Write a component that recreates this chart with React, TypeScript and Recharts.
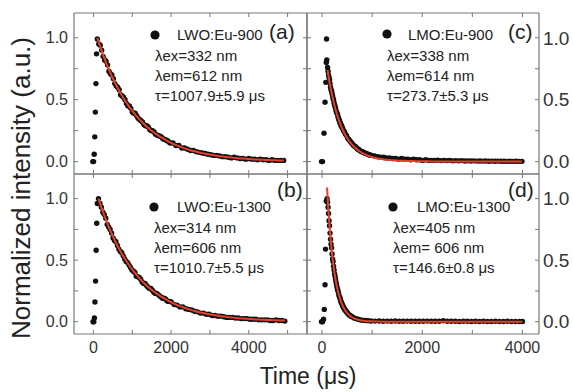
import React from "react";
import { ComposedChart, Scatter, Line, XAxis, YAxis } from "recharts";

const W = 573;
const H = 392;
const FONT = "'Liberation Sans', Arial, sans-serif";
const FRAME = "#777";
const RED = "#e5402a";

// (a) LWO:Eu-900
const aRiseT = [-15, 5, 20, 35, 50, 65, 80];
const aRiseY = [0.0, 0.0, 0.06, 0.2, 0.4, 0.63, 0.87];
const aTime = [
  100, 175, 250, 325, 400, 475, 550, 625, 700, 775, 850, 925, 1000, 1075, 1150, 1225,
  1300, 1375, 1450, 1525, 1600, 1675, 1750, 1825, 1900, 1975, 2050, 2125, 2200, 2275,
  2350, 2425, 2500, 2575, 2650, 2725, 2800, 2875, 2950, 3025, 3100, 3175, 3250, 3325,
  3400, 3475, 3550, 3625, 3700, 3775, 3850, 3925, 4000, 4075, 4150, 4225, 4300, 4375,
  4450, 4525, 4600, 4675, 4750, 4825, 4900,
];
const aDots = [
  0.99, 0.94, 0.85, 0.81, 0.73, 0.7, 0.63, 0.6, 0.54, 0.52, 0.47, 0.45, 0.4, 0.39, 0.35,
  0.33, 0.3, 0.29, 0.26, 0.25, 0.22, 0.21, 0.2, 0.18, 0.17, 0.15, 0.15, 0.13, 0.13, 0.11,
  0.11, 0.1, 0.09, 0.09, 0.08, 0.075, 0.07, 0.065, 0.06, 0.055, 0.05, 0.05, 0.045, 0.04,
  0.04, 0.035, 0.03, 0.035, 0.03, 0.025, 0.025, 0.02, 0.025, 0.02, 0.02, 0.015, 0.02,
  0.015, 0.015, 0.01, 0.015, 0.01, 0.01, 0.01, 0.01,
];
const aMidT = [
  138, 213, 288, 363, 438, 513, 588, 663, 738, 813, 888, 963, 1038, 1113, 1188, 1263, 1338,
  1413, 1488, 1563, 1638, 1713, 1788, 1863, 1938,
];
const aMidDots = [
  0.95, 0.9, 0.82, 0.78, 0.71, 0.67, 0.61, 0.58, 0.53, 0.5, 0.45, 0.43, 0.39, 0.37, 0.34,
  0.32, 0.29, 0.28, 0.25, 0.24, 0.215, 0.205, 0.185, 0.175, 0.16,
];
const aFit = [
  1.0, 0.928, 0.862, 0.8, 0.743, 0.689, 0.64, 0.594, 0.551, 0.512, 0.475, 0.441, 0.41,
  0.38, 0.353, 0.328, 0.304, 0.282, 0.262, 0.243, 0.226, 0.21, 0.195, 0.181, 0.168, 0.156,
  0.144, 0.134, 0.124, 0.115, 0.107, 0.0995, 0.0923, 0.0857, 0.0796, 0.0739, 0.0686,
  0.0636, 0.0591, 0.0548, 0.0509, 0.0473, 0.0439, 0.0407, 0.0378, 0.0351, 0.0326, 0.0302,
  0.0281, 0.0261, 0.0242, 0.0225, 0.0208, 0.0194, 0.018, 0.0167, 0.0155, 0.0144, 0.0133,
  0.0124, 0.0115, 0.0107, 0.0099, 0.0092, 0.0085,
];

// (b) LWO:Eu-1300
const bRiseT = [-10, 10, 25, 40, 55, 70, 85, 100];
const bRiseY = [0.0, 0.0, 0.03, 0.16, 0.33, 0.58, 0.8, 0.96];
const bTime = [
  130, 205, 280, 355, 430, 505, 580, 655, 730, 805, 880, 955, 1030, 1105, 1180, 1255,
  1330, 1405, 1480, 1555, 1630, 1705, 1780, 1855, 1930, 2005, 2080, 2155, 2230, 2305,
  2380, 2455, 2530, 2605, 2680, 2755, 2830, 2905, 2980, 3055, 3130, 3205, 3280, 3355,
  3430, 3505, 3580, 3655, 3730, 3805, 3880, 3955, 4030, 4105, 4180, 4255, 4330, 4405,
  4480, 4555, 4630, 4705, 4780, 4855, 4930,
];
const bDots = [
  1.0, 0.93, 0.87, 0.79, 0.75, 0.68, 0.65, 0.59, 0.56, 0.51, 0.48, 0.44, 0.41, 0.37, 0.36,
  0.32, 0.31, 0.28, 0.27, 0.24, 0.23, 0.21, 0.19, 0.185, 0.165, 0.16, 0.14, 0.135, 0.12,
  0.12, 0.105, 0.1, 0.095, 0.085, 0.08, 0.07, 0.07, 0.06, 0.06, 0.05, 0.05, 0.045, 0.045,
  0.04, 0.035, 0.035, 0.035, 0.03, 0.03, 0.025, 0.025, 0.025, 0.02, 0.02, 0.02, 0.015,
  0.015, 0.015, 0.015, 0.01, 0.01, 0.015, 0.01, 0.01, 0.005,
];
const bMidT = [
  168, 243, 318, 393, 468, 543, 618, 693, 768, 843, 918, 993, 1068, 1143, 1218, 1293, 1368,
  1443, 1518, 1593, 1668, 1743, 1818, 1893, 1968,
];
const bMidDots = [
  0.96, 0.89, 0.84, 0.77, 0.72, 0.66, 0.62, 0.57, 0.535, 0.49, 0.46, 0.42, 0.4, 0.365,
  0.345, 0.31, 0.295, 0.27, 0.255, 0.23, 0.22, 0.2, 0.19, 0.17, 0.165,
];
const bFit = [
  1.0, 0.929, 0.863, 0.801, 0.744, 0.691, 0.641, 0.596, 0.553, 0.514, 0.477, 0.443, 0.412,
  0.382, 0.355, 0.33, 0.306, 0.284, 0.264, 0.245, 0.228, 0.212, 0.197, 0.183, 0.17, 0.158,
  0.146, 0.136, 0.126, 0.117, 0.109, 0.101, 0.094, 0.0873, 0.0811, 0.0753, 0.0699, 0.0649,
  0.0603, 0.056, 0.052, 0.0483, 0.0449, 0.0417, 0.0387, 0.0359, 0.0334, 0.031, 0.0288,
  0.0267, 0.0248, 0.0231, 0.0214, 0.0199, 0.0185, 0.0172, 0.0159, 0.0148, 0.0137, 0.0128,
  0.0119, 0.011, 0.0102, 0.0095, 0.0088,
];

// (c) LMO:Eu-900
const cRiseT = [-10, 10, 40, 60, 75, 85, 90, 95];
const cRiseY = [0.0, 0.0, 0.23, 0.48, 0.64, 0.8, 0.99, 0.82];
const cTime = [
  110, 130, 150, 170, 190, 210, 230, 250, 270, 290, 310, 330, 350, 370, 390, 410, 430, 450,
  470, 490, 510, 530, 550, 570, 590, 610, 630, 650, 670, 690, 710, 730, 750, 770, 790, 810,
  830, 850, 870, 890, 910, 930, 950, 970, 990, 1050, 1110, 1170, 1230, 1290, 1350, 1410,
  1470, 1530, 1590, 1650, 1710, 1770, 1830, 1890, 1950, 2010, 2070, 2130, 2190, 2250, 2310,
  2370, 2430, 2490, 2550, 2610, 2670, 2730, 2790, 2850, 2910, 2970, 3030, 3090, 3150, 3210,
  3270, 3330, 3390, 3450, 3510, 3570, 3630, 3690, 3750, 3810, 3870, 3930, 3990,
];
const cDots = [
  0.76, 0.7, 0.66, 0.6, 0.57, 0.53, 0.5, 0.46, 0.43, 0.4, 0.38, 0.35, 0.33, 0.31, 0.29,
  0.27, 0.25, 0.24, 0.22, 0.21, 0.19, 0.18, 0.17, 0.16, 0.15, 0.14, 0.13, 0.125, 0.12,
  0.11, 0.1, 0.1, 0.09, 0.085, 0.08, 0.08, 0.075, 0.07, 0.065, 0.065, 0.06, 0.055, 0.055,
  0.05, 0.05, 0.045, 0.04, 0.035, 0.035, 0.03, 0.03, 0.025, 0.025, 0.02, 0.025, 0.02, 0.02,
  0.015, 0.02, 0.015, 0.015, 0.01, 0.015, 0.01, 0.01, 0.01, 0.012, 0.008, 0.01, 0.008,
  0.01, 0.006, 0.008, 0.006, 0.008, 0.005, 0.006, 0.005, 0.006, 0.004, 0.005, 0.004, 0.005,
  0.003, 0.004, 0.003, 0.004, 0.003, 0.003, 0.002, 0.003, 0.002, 0.003, 0.002, 0.002,
];
const cMidT = [120, 140, 160, 180, 200, 220, 240, 260, 280, 300, 320, 340, 360, 380, 400];
const cMidDots = [
  0.73, 0.68, 0.63, 0.58, 0.55, 0.51, 0.475, 0.445, 0.41, 0.39, 0.36, 0.335, 0.31, 0.29,
  0.275,
];
const cFit = [
  0.74, 0.69, 0.64, 0.6, 0.56, 0.52, 0.485, 0.452, 0.422, 0.393, 0.367, 0.342, 0.32, 0.298,
  0.278, 0.26, 0.243, 0.227, 0.212, 0.198, 0.185, 0.173, 0.162, 0.151, 0.141, 0.132, 0.124,
  0.116, 0.108, 0.101, 0.095, 0.089, 0.083, 0.078, 0.073, 0.068, 0.064, 0.06, 0.056, 0.052,
  0.049, 0.046, 0.043, 0.04, 0.037, 0.031, 0.026, 0.022, 0.018, 0.015, 0.013, 0.011, 0.009,
  0.008, 0.007, 0.006, 0.005, 0.004, 0.004, 0.003, 0.003, 0.002, 0.002, 0.002, 0.001,
  0.001, 0.001, 0.001, 0.001, 0.001, 0, 0, 0, 0, 0, 0, 0, 0, 0, 0, 0, 0, 0, 0, 0, 0, 0, 0,
  0, 0, 0, 0, 0, 0, 0,
];

// (d) LMO:Eu-1300
const dRiseT = [-10, 10, 30, 45, 60, 70, 85];
const dRiseY = [0.0, 0.0, 0.02, 0.1, 0.3, 0.59, 0.98];
const dTime = [
  100, 120, 140, 160, 180, 200, 220, 240, 260, 280, 300, 320, 340, 360, 380, 400, 420, 440,
  460, 480, 500, 520, 540, 560, 580, 600, 640, 680, 720, 760, 800, 860, 920, 980, 1060,
  1140, 1220, 1300, 1380, 1460, 1540, 1620, 1700, 1780, 1860, 1940, 2020, 2100, 2180, 2260,
  2340, 2420, 2500, 2580, 2660, 2740, 2820, 2900, 2980, 3060, 3140, 3220, 3300, 3380, 3460,
  3540, 3620, 3700, 3780, 3860, 3940, 4000,
];
const dDots = [
  1.0, 0.93, 0.82, 0.72, 0.63, 0.55, 0.49, 0.42, 0.37, 0.32, 0.28, 0.25, 0.21, 0.19, 0.16,
  0.145, 0.125, 0.11, 0.095, 0.085, 0.075, 0.065, 0.055, 0.05, 0.045, 0.04, 0.03, 0.025,
  0.02, 0.015, 0.012, 0.01, 0.008, 0.006, 0.005, 0.006, 0.004, 0.005, 0.004, 0.006, 0.004,
  0.003, 0.005, 0.004, 0.003, 0.004, 0.003, 0.005, 0.003, 0.004, 0.003, 0.008, 0.003, 0.004,
  0.003, 0.002, 0.004, 0.003, 0.002, 0.003, 0.002, 0.003, 0.002, 0.002, 0.003, 0.002, 0.002,
  0.003, 0.002, 0.002, 0.002, 0.002,
];
const dMidT = [
  110, 130, 150, 170, 190, 210, 230, 250, 270, 290, 310, 330, 350, 370, 390, 410, 430, 450,
  470, 490,
];
const dMidDots = [
  0.97, 0.88, 0.78, 0.67, 0.6, 0.51, 0.45, 0.39, 0.345, 0.3, 0.26, 0.23, 0.2, 0.175, 0.15,
  0.13, 0.115, 0.1, 0.09, 0.08,
];
const dFit = [
  1.09, 0.951, 0.83, 0.724, 0.632, 0.551, 0.481, 0.419, 0.366, 0.319, 0.279, 0.243, 0.212,
  0.185, 0.161, 0.141, 0.123, 0.107, 0.0935, 0.0816, 0.0712, 0.0621, 0.0542, 0.0473, 0.0412,
  0.036, 0.0274, 0.0208, 0.0159, 0.0121, 0.0092, 0.0061, 0.004, 0.0026, 0.0015, 0.0008,
  0.0004, 0.0002, 0.0001, 0, 0, 0, 0, 0, 0, 0, 0, 0, 0, 0, 0, 0, 0, 0, 0, 0, 0, 0, 0, 0, 0,
  0, 0, 0, 0, 0, 0, 0, 0, 0, 0, 0,
];

const yTicks = [0, 0.25, 0.5, 0.75, 1.0];
const leftXTicks = [0, 1000, 2000, 3000, 4000, 5000];
const rightXTicks = [0, 1000, 2000, 3000, 4000];

const zip = (t: number[], y: number[]) => t.map((v, i) => ({ t: v, y: y[i] }));

const tickStyle = { fontSize: 16, fill: "#333", fontFamily: FONT };
const rightTickStyle = { fontSize: 19, fill: "#333", fontFamily: FONT };
const fmtX = (v: number) => (v % 2000 === 0 ? String(v) : "");
const fmtY = (v: number) => (Math.abs(v * 2 - Math.round(v * 2)) < 1e-6 ? v.toFixed(1) : "");
const blank = () => "";

const Dot = (p: any) => <circle cx={p.cx} cy={p.cy} r={2.7} fill="#111" />;

// axis gutters reserved outside each plot box
const LW = 40;
const RW = 30;
const XH = 30;
const TH = 4;
const Y_DOMAIN: [number, number] = [-0.1, 1.2];

type PanelProps = {
  box: [number, number, number, number];
  xDomain: [number, number];
  xTicks: number[];
  left?: boolean;
  right?: boolean;
  bottom?: boolean;
  dots: { t: number; y: number }[];
  fit: { t: number; y: number }[];
};

function Axes({ xDomain, xTicks, left, right, bottom, bare }: any) {
  const common = bare
    ? { axisLine: false, tickLine: false, tick: false, allowDataOverflow: true }
    : {
        axisLine: { stroke: FRAME, strokeWidth: 1.2 },
        tickLine: { stroke: FRAME },
        tickSize: -4,
        tick: tickStyle,
        interval: 0 as const,
        allowDataOverflow: true,
      };
  return [
    <XAxis
      key="xb"
      xAxisId="b"
      dataKey="t"
      type="number"
      domain={xDomain}
      ticks={xTicks}
      height={XH}
      tickMargin={12}
      tickFormatter={bottom ? fmtX : blank}
      {...common}
    />,
    <XAxis
      key="xt"
      xAxisId="top"
      orientation="top"
      dataKey="t"
      type="number"
      domain={xDomain}
      ticks={xTicks}
      height={TH}
      tickFormatter={blank}
      {...common}
    />,
    <YAxis
      key="yl"
      yAxisId="l"
      type="number"
      domain={Y_DOMAIN}
      ticks={yTicks}
      width={LW}
      tickMargin={10}
      tickFormatter={left ? fmtY : blank}
      {...common}
    />,
    <YAxis
      key="yr"
      yAxisId="r"
      orientation="right"
      type="number"
      domain={Y_DOMAIN}
      ticks={yTicks}
      width={RW}
      tickMargin={8}
      tickFormatter={right ? fmtY : blank}
      {...common}
      tick={bare ? false : rightTickStyle}
    />,
  ];
}

function Panel({ box, xDomain, xTicks, left, right, bottom, dots, fit }: PanelProps) {
  const [x0, y0, x1, y1] = box;
  const margin = { top: y0 - TH, left: x0 - LW, right: W - x1 - RW, bottom: H - y1 - XH };
  const layer = { position: "absolute" as const, left: 0, top: 0 };
  return (
    <>
      <div style={layer}>
        <ComposedChart width={W} height={H} margin={margin}>
          {Axes({ xDomain, xTicks, left, right, bottom, bare: false })}
          <Scatter
            xAxisId="b"
            yAxisId="l"
            data={dots}
            dataKey="y"
            shape={Dot}
            isAnimationActive={false}
          />
        </ComposedChart>
      </div>
      <div style={layer}>
        <ComposedChart width={W} height={H} margin={margin}>
          {Axes({ xDomain, xTicks, bare: true })}
          <Line
            xAxisId="b"
            yAxisId="l"
            data={fit}
            dataKey="y"
            type="monotone"
            stroke={RED}
            strokeWidth={2}
            dot={false}
            activeDot={false}
            isAnimationActive={false}
          />
        </ComposedChart>
      </div>
    </>
  );
}

function Note({ x, y, bullet, name, tag, tagX, tagY, lines }: any) {
  return (
    <g fontFamily={FONT} fill="#222">
      <circle cx={bullet[0]} cy={bullet[1]} r={4.6} fill="#111" />
      <text x={x} y={y} fontSize={15}>
        {name}
      </text>
      <text x={tagX} y={tagY} fontSize={21}>
        {tag}
      </text>
      {lines.map((l: string, i: number) => (
        <text key={i} x={bullet[0]} y={y + 21 + i * 20} fontSize={15}>
          {l}
        </text>
      ))}
    </g>
  );
}

export default function App() {
  const LX: [number, number] = [-500, 5500];
  const RX: [number, number] = [-300, 4330];
  return (
    <div style={{ position: "absolute", left: 0, top: 0, width: W, height: H, background: "#fff" }}>
      <Panel
        box={[74, 13, 307, 174]}
        xDomain={LX}
        xTicks={leftXTicks}
        left
        dots={[...zip(aRiseT, aRiseY), ...zip(aTime, aDots), ...zip(aMidT, aMidDots)]}
        fit={zip(aTime, aFit)}
      />
      <Panel
        box={[74, 174, 307, 334]}
        xDomain={LX}
        xTicks={leftXTicks}
        left
        bottom
        dots={[...zip(bRiseT, bRiseY), ...zip(bTime, bDots), ...zip(bMidT, bMidDots)]}
        fit={zip(bTime, bFit)}
      />
      <Panel
        box={[307, 13, 539, 174]}
        xDomain={RX}
        xTicks={rightXTicks}
        right
        dots={[...zip(cRiseT, cRiseY), ...zip(cTime, cDots), ...zip(cMidT, cMidDots)]}
        fit={zip(cTime, cFit)}
      />
      <Panel
        box={[307, 174, 539, 334]}
        xDomain={RX}
        xTicks={rightXTicks}
        right
        bottom
        dots={[...zip(dRiseT, dRiseY), ...zip(dTime, dDots), ...zip(dMidT, dMidDots)]}
        fit={zip(dTime, dFit)}
      />
      <svg width={W} height={H} style={{ position: "absolute", left: 0, top: 0 }}>
        <Note
          x={177}
          y={40}
          bullet={[155, 35]}
          name="LWO:Eu-900"
          tag="(a)"
          tagX={269}
          tagY={39}
          lines={["λex=332 nm", "λem=612 nm", "τ=1007.9±5.9 μs"]}
        />
        <Note
          x={408}
          y={40}
          bullet={[387, 34]}
          name="LMO:Eu-900"
          tag="(c)"
          tagX={508}
          tagY={39}
          lines={["λex=338 nm", "λem=614 nm", "τ=273.7±5.3 μs"]}
        />
        <Note
          x={177}
          y={212}
          bullet={[154, 207]}
          name="LWO:Eu-1300"
          tag="(b)"
          tagX={277}
          tagY={197}
          lines={["λex=314 nm", "λem=606 nm", "τ=1010.7±5.5 μs"]}
        />
        <Note
          x={417}
          y={212}
          bullet={[393, 207]}
          name="LMO:Eu-1300"
          tag="(d)"
          tagX={508}
          tagY={197}
          lines={["λex=405 nm", "λem= 606 nm", "τ=146.6±0.8 μs"]}
        />
        <text
          x={30}
          y={188}
          transform="rotate(-90 30 188)"
          textAnchor="middle"
          fontFamily={FONT}
          fontSize={26}
          fill="#222"
        >
          Normalized intensity (a.u.)
        </text>
        <text x={308} y={384} textAnchor="middle" fontFamily={FONT} fontSize={23} fill="#222">
          Time (μs)
        </text>
      </svg>
    </div>
  );
}
